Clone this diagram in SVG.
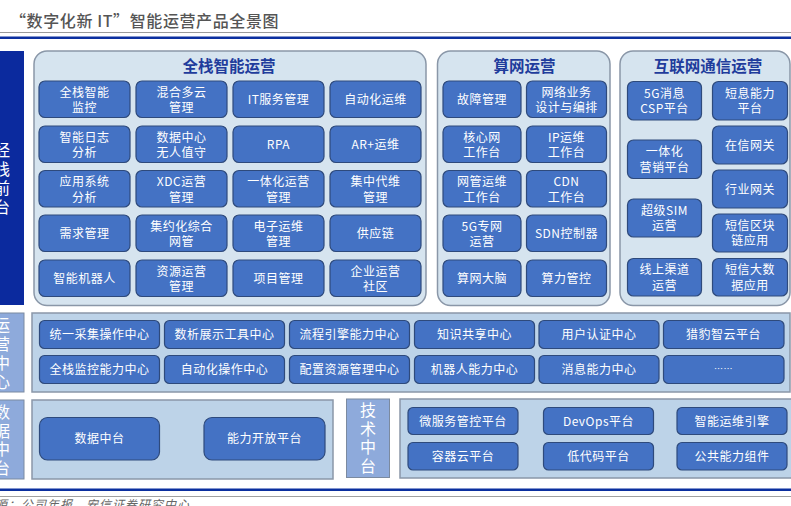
<svg xmlns="http://www.w3.org/2000/svg" width="791" height="506" viewBox="0 0 791 506">
<style>
.t{font-family:"Noto Sans CJK SC","Noto Sans",sans-serif}
.title{font-size:16px;fill:#555;font-weight:500;letter-spacing:0.6px}
.panel{fill:#d6e4ef;stroke:#8a97a8;stroke-width:1.5}
.panel2{fill:#bdd3e8;stroke:#8a97a8;stroke-width:1.5}
.lab{fill:#8eaadb;stroke:#7b8aa0;stroke-width:1}
.vt{font-size:16px;fill:#fff;writing-mode:vertical-rl;text-orientation:upright;letter-spacing:3px}
.ptitle{font-size:15.5px;fill:#1f3c9c;font-weight:bold;text-anchor:middle}
.node rect{fill:#4472c4;stroke:#2e4a7c;stroke-width:1.2}
.node text{font-family:"Noto Sans CJK SC","Noto Sans",sans-serif;font-size:12px;fill:#fff;text-anchor:middle;letter-spacing:0.5px}
.foot{font-size:12px;fill:#666;font-style:italic;letter-spacing:1px}
</style>
<rect width="791" height="506" fill="#fff"/>
<text class="t title" x="10" y="27">“数字化新 IT”智能运营产品全景图</text>
<line x1="0" y1="32.5" x2="791" y2="32.5" stroke="#9a9a9a" stroke-width="1"/>
<rect x="0" y="36.5" width="791" height="2.5" fill="#0b2f9f"/>

<!-- left dark column -->
<g id="col-front">
<rect x="0" y="51" width="24" height="254" fill="#0b2a9e"/>
<text class="t vt" x="2" y="142">经栈前台</text>
</g>

<!-- panels -->
<g id="panel-fullstack">
<rect class="panel" x="34" y="51" width="392" height="254.5" rx="13"/>
<text class="t ptitle" x="229" y="71.5">全栈智能运营</text>
</g>
<g id="panel-compute">
<rect class="panel" x="437.5" y="51" width="172.5" height="254.5" rx="13"/>
<text class="t ptitle" x="524.5" y="71.5">算网运营</text>
</g>
<g id="panel-internet">
<rect class="panel" x="620" y="51" width="170" height="254.5" rx="13"/>
<text class="t ptitle" x="708" y="71.5">互联网通信运营</text>
</g>

<!-- 全栈智能运营 nodes -->
<g id="n-quanzhan" class="node"><rect x="39" y="81" width="91" height="36.5" rx="6"/><text x="84.5" y="96.5">全栈智能</text><text x="84.5" y="112">监控</text></g>
<g id="n-hunhe" class="node"><rect x="136" y="81" width="91" height="36.5" rx="6"/><text x="181.5" y="96.5">混合多云</text><text x="181.5" y="112">管理</text></g>
<g id="n-itsm" class="node"><rect x="233" y="81" width="91" height="36.5" rx="6"/><text x="278.5" y="103.5">IT服务管理</text></g>
<g id="n-auto" class="node"><rect x="330" y="81" width="91" height="36.5" rx="6"/><text x="375.5" y="103.5">自动化运维</text></g>

<g id="n-log" class="node"><rect x="39" y="126" width="91" height="36.5" rx="6"/><text x="84.5" y="141.5">智能日志</text><text x="84.5" y="157">分析</text></g>
<g id="n-dc" class="node"><rect x="136" y="126" width="91" height="36.5" rx="6"/><text x="181.5" y="141.5">数据中心</text><text x="181.5" y="157">无人值守</text></g>
<g id="n-rpa" class="node"><rect x="233" y="126" width="91" height="36.5" rx="6"/><text x="278.5" y="148.5">RPA</text></g>
<g id="n-ar" class="node"><rect x="330" y="126" width="91" height="36.5" rx="6"/><text x="375.5" y="148.5">AR+运维</text></g>

<g id="n-app" class="node"><rect x="39" y="170.5" width="91" height="36.5" rx="6"/><text x="84.5" y="186">应用系统</text><text x="84.5" y="201.5">分析</text></g>
<g id="n-xdc" class="node"><rect x="136" y="170.5" width="91" height="36.5" rx="6"/><text x="181.5" y="186">XDC运营</text><text x="181.5" y="201.5">管理</text></g>
<g id="n-yiti" class="node"><rect x="233" y="170.5" width="91" height="36.5" rx="6"/><text x="278.5" y="186">一体化运营</text><text x="278.5" y="201.5">管理</text></g>
<g id="n-jizhong" class="node"><rect x="330" y="170.5" width="91" height="36.5" rx="6"/><text x="375.5" y="186">集中代维</text><text x="375.5" y="201.5">管理</text></g>

<g id="n-xuqiu" class="node"><rect x="39" y="215" width="91" height="36.5" rx="6"/><text x="84.5" y="237.5">需求管理</text></g>
<g id="n-jiyue" class="node"><rect x="136" y="215" width="91" height="36.5" rx="6"/><text x="181.5" y="230.5">集约化综合</text><text x="181.5" y="246">网管</text></g>
<g id="n-dianzi" class="node"><rect x="233" y="215" width="91" height="36.5" rx="6"/><text x="278.5" y="230.5">电子运维</text><text x="278.5" y="246">管理</text></g>
<g id="n-supply" class="node"><rect x="330" y="215" width="91" height="36.5" rx="6"/><text x="375.5" y="237.5">供应链</text></g>

<g id="n-robot" class="node"><rect x="39" y="260" width="91" height="36.5" rx="6"/><text x="84.5" y="282.5">智能机器人</text></g>
<g id="n-res" class="node"><rect x="136" y="260" width="91" height="36.5" rx="6"/><text x="181.5" y="275.5">资源运营</text><text x="181.5" y="291">管理</text></g>
<g id="n-proj" class="node"><rect x="233" y="260" width="91" height="36.5" rx="6"/><text x="278.5" y="282.5">项目管理</text></g>
<g id="n-ent" class="node"><rect x="330" y="260" width="91" height="36.5" rx="6"/><text x="375.5" y="275.5">企业运营</text><text x="375.5" y="291">社区</text></g>

<!-- 算网运营 nodes -->
<g id="n-fault" class="node"><rect x="443" y="81" width="78" height="36.5" rx="6"/><text x="482" y="103.5">故障管理</text></g>
<g id="n-netdesign" class="node"><rect x="526.5" y="81" width="80" height="36.5" rx="6"/><text x="566.5" y="96.5">网络业务</text><text x="566.5" y="112">设计与编排</text></g>
<g id="n-core" class="node"><rect x="443" y="126" width="78" height="36.5" rx="6"/><text x="482" y="141.5">核心网</text><text x="482" y="157">工作台</text></g>
<g id="n-ip" class="node"><rect x="526.5" y="126" width="80" height="36.5" rx="6"/><text x="566.5" y="141.5">IP运维</text><text x="566.5" y="157">工作台</text></g>
<g id="n-nms" class="node"><rect x="443" y="170.5" width="78" height="36.5" rx="6"/><text x="482" y="186">网管运维</text><text x="482" y="201.5">工作台</text></g>
<g id="n-cdn" class="node"><rect x="526.5" y="170.5" width="80" height="36.5" rx="6"/><text x="566.5" y="186">CDN</text><text x="566.5" y="201.5">工作台</text></g>
<g id="n-5gnet" class="node"><rect x="443" y="215" width="78" height="36.5" rx="6"/><text x="482" y="230.5">5G专网</text><text x="482" y="246">运营</text></g>
<g id="n-sdn" class="node"><rect x="526.5" y="215" width="80" height="36.5" rx="6"/><text x="566.5" y="237.5">SDN控制器</text></g>
<g id="n-brain" class="node"><rect x="443" y="260" width="78" height="36.5" rx="6"/><text x="482" y="282.5">算网大脑</text></g>
<g id="n-power" class="node"><rect x="526.5" y="260" width="80" height="36.5" rx="6"/><text x="566.5" y="282.5">算力管控</text></g>

<!-- 互联网通信运营 nodes -->
<g id="n-5gmsg" class="node"><rect x="627.5" y="81.5" width="74" height="38.5" rx="6"/><text x="664.5" y="97.5">5G消息</text><text x="664.5" y="113">CSP平台</text></g>
<g id="n-market" class="node"><rect x="627.5" y="140" width="74" height="38.5" rx="6"/><text x="664.5" y="156">一体化</text><text x="664.5" y="171.5">营销平台</text></g>
<g id="n-sim" class="node"><rect x="627.5" y="199" width="74" height="38" rx="6"/><text x="664.5" y="214.5">超级SIM</text><text x="664.5" y="230">运营</text></g>
<g id="n-online" class="node"><rect x="627.5" y="258.5" width="74" height="37.5" rx="6"/><text x="664.5" y="274">线上渠道</text><text x="664.5" y="289.5">运营</text></g>
<g id="n-sms" class="node"><rect x="712.5" y="81.5" width="75" height="38.5" rx="6"/><text x="750" y="97.5">短息能力</text><text x="750" y="113">平台</text></g>
<g id="n-zaixin" class="node"><rect x="712.5" y="126" width="75" height="38" rx="6"/><text x="750" y="149.5">在信网关</text></g>
<g id="n-hangye" class="node"><rect x="712.5" y="170" width="75" height="38" rx="6"/><text x="750" y="193.5">行业网关</text></g>
<g id="n-chain" class="node"><rect x="712.5" y="214" width="75" height="38" rx="6"/><text x="750" y="229.5">短信区块</text><text x="750" y="245">链应用</text></g>
<g id="n-bigdata" class="node"><rect x="712.5" y="258.5" width="75" height="37.5" rx="6"/><text x="750" y="274">短信大数</text><text x="750" y="289.5">据应用</text></g>

<!-- 运营中心 -->
<g id="lab-ops">
<rect class="lab" x="-1" y="313" width="25" height="79"/>
<text class="t vt" x="2" y="317">运营中心</text>
</g>
<g id="panel-ops"><rect class="panel2" x="32" y="313" width="758" height="79"/></g>
<g id="n-c1" class="node"><rect x="39.5" y="320.5" width="120" height="28" rx="5"/><text x="99.5" y="339">统一采集操作中心</text></g>
<g id="n-c2" class="node"><rect x="164.5" y="320.5" width="120" height="28" rx="5"/><text x="224.5" y="339">数析展示工具中心</text></g>
<g id="n-c3" class="node"><rect x="289.5" y="320.5" width="120" height="28" rx="5"/><text x="349.5" y="339">流程引擎能力中心</text></g>
<g id="n-c4" class="node"><rect x="414.5" y="320.5" width="120" height="28" rx="5"/><text x="474.5" y="339">知识共享中心</text></g>
<g id="n-c5" class="node"><rect x="539" y="320.5" width="120" height="28" rx="5"/><text x="599" y="339">用户认证中心</text></g>
<g id="n-c6" class="node"><rect x="663.5" y="320.5" width="120.5" height="28" rx="5"/><text x="723.5" y="339">猎豹智云平台</text></g>
<g id="n-c7" class="node"><rect x="39.5" y="355.5" width="120" height="28" rx="5"/><text x="99.5" y="374">全栈监控能力中心</text></g>
<g id="n-c8" class="node"><rect x="164.5" y="355.5" width="120" height="28" rx="5"/><text x="224.5" y="374">自动化操作中心</text></g>
<g id="n-c9" class="node"><rect x="289.5" y="355.5" width="120" height="28" rx="5"/><text x="349.5" y="374">配置资源管理中心</text></g>
<g id="n-c10" class="node"><rect x="414.5" y="355.5" width="120" height="28" rx="5"/><text x="474.5" y="374">机器人能力中心</text></g>
<g id="n-c11" class="node"><rect x="539" y="355.5" width="120" height="28" rx="5"/><text x="599" y="374">消息能力中心</text></g>
<g id="n-c12" class="node"><rect x="663.5" y="355.5" width="120.5" height="28" rx="5"/><text x="723.5" y="372" style="font-size:9px">……</text></g>

<!-- 数据中台 -->
<g id="lab-data">
<rect class="lab" x="-1" y="400" width="25" height="79"/>
<text class="t vt" x="2" y="404" style="letter-spacing:2.7px">数据中台</text>
</g>
<g id="panel-data"><rect class="panel2" x="32" y="400" width="301" height="79"/></g>
<g id="n-datamid" class="node"><rect x="39.5" y="417.5" width="120" height="42.5" rx="8"/><text x="99.5" y="443">数据中台</text></g>
<g id="n-open" class="node"><rect x="204" y="417.5" width="121" height="42.5" rx="8"/><text x="264.5" y="443">能力开放平台</text></g>

<!-- 技术中台 -->
<g id="lab-tech">
<rect class="lab" x="346.5" y="399" width="43" height="78.5"/>
<text class="t vt" x="368" y="402" style="letter-spacing:2.7px">技术中台</text>
</g>
<g id="panel-tech"><rect class="panel2" x="400" y="399" width="392" height="79"/></g>
<g id="n-micro" class="node"><rect x="408" y="407.5" width="110" height="27" rx="5"/><text x="463" y="425.5">微服务管控平台</text></g>
<g id="n-devops" class="node"><rect x="543.5" y="407.5" width="110" height="27" rx="5"/><text x="598.5" y="425.5">DevOps平台</text></g>
<g id="n-aiops" class="node"><rect x="677" y="407.5" width="110" height="27" rx="5"/><text x="732" y="425.5">智能运维引擎</text></g>
<g id="n-container" class="node"><rect x="408" y="442.5" width="110" height="27.5" rx="5"/><text x="463" y="460.5">容器云平台</text></g>
<g id="n-lowcode" class="node"><rect x="543.5" y="442.5" width="110" height="27.5" rx="5"/><text x="598.5" y="460.5">低代码平台</text></g>
<g id="n-common" class="node"><rect x="677" y="442.5" width="110" height="27.5" rx="5"/><text x="732" y="460.5">公共能力组件</text></g>

<g id="connectors"></g>

<rect x="0" y="488.5" width="791" height="2.5" fill="#0b2f9f"/>
<line x1="0" y1="496.5" x2="791" y2="496.5" stroke="#a0a0a0" stroke-width="1"/>
<text class="t foot" x="-44" y="509">资料来源：公司年报，安信证券研究中心</text>
</svg>
